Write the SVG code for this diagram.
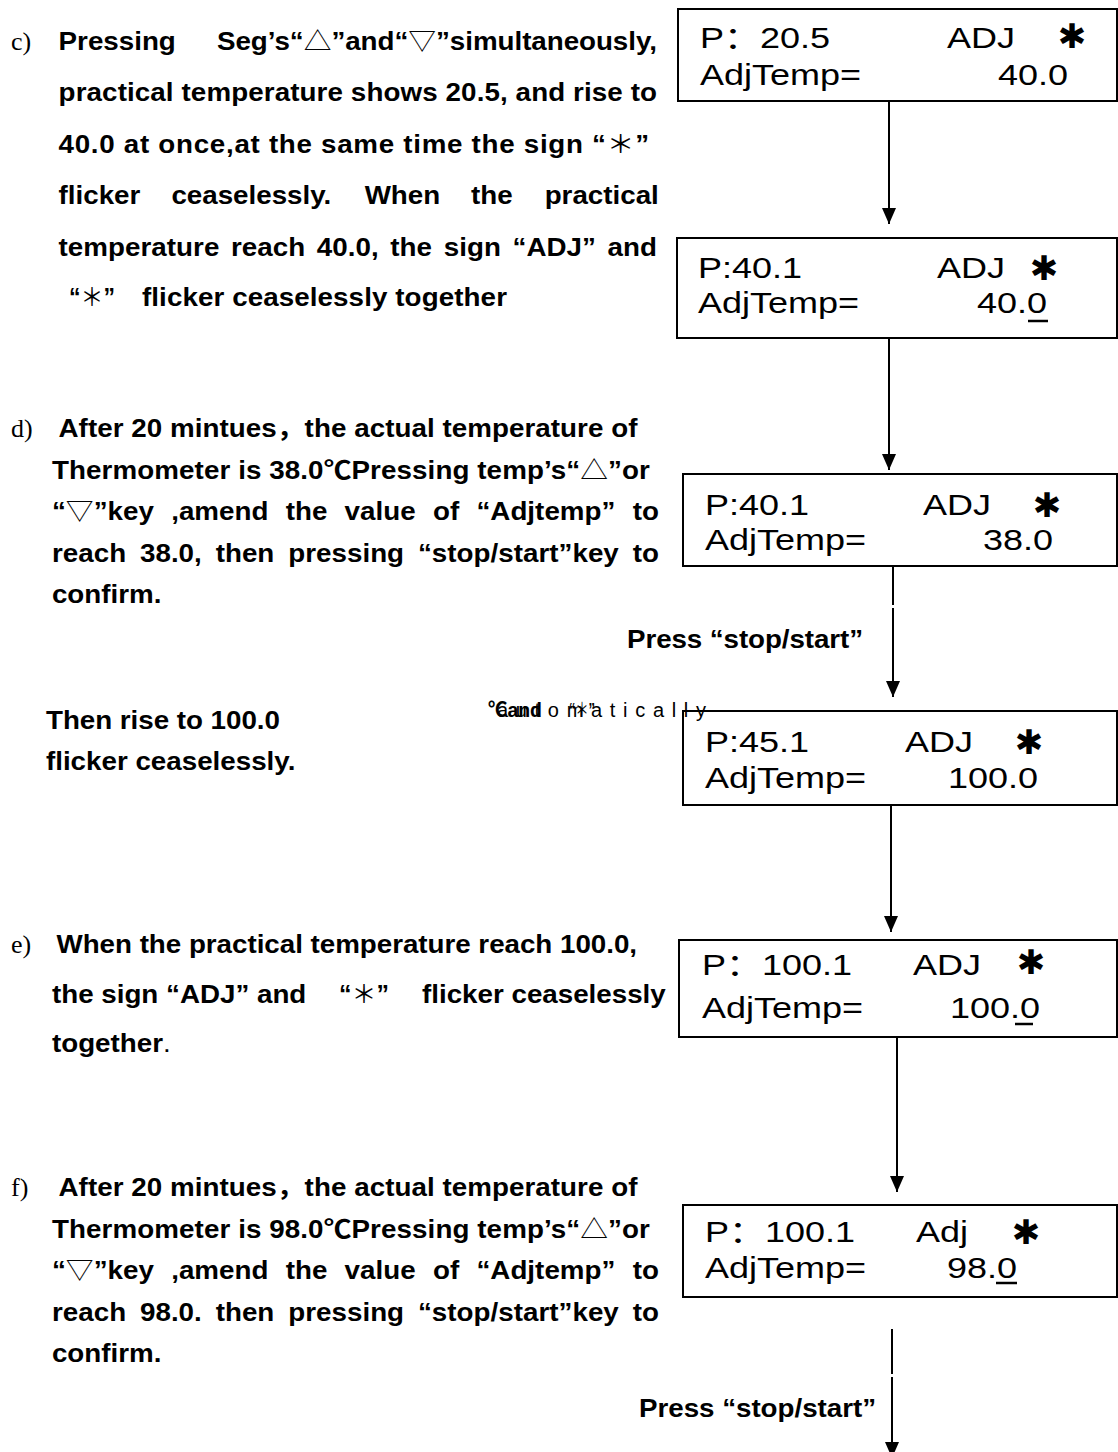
<svg xmlns="http://www.w3.org/2000/svg" width="1118" height="1452" viewBox="0 0 1118 1452">
<defs>
<style>
.t{font-family:"Liberation Sans","Noto Sans CJK SC",sans-serif;font-weight:bold;font-size:25px;fill:#000}
.n{font-weight:normal}
.cj{font-family:"Noto Sans CJK SC",sans-serif}
.lbl{font-family:"Liberation Serif","Noto Sans CJK SC",serif;font-size:26px;fill:#000}
.bx{font-family:"Liberation Sans","Noto Sans CJK SC",sans-serif;font-size:30px;fill:#000}
.star{font-family:"DejaVu Sans",sans-serif;font-size:34px;font-weight:bold;fill:#000;text-anchor:middle}
.box{fill:none;stroke:#000;stroke-width:2}
.ul{stroke:#000;stroke-width:2.5}
.conn{fill:none;stroke:#000;stroke-width:2;marker-end:url(#ah)}
.sm{font-family:"Liberation Sans","Noto Sans CJK SC",sans-serif;font-size:20px;fill:#000}
</style>
<marker id="ah" viewBox="0 0 16 14" refX="16" refY="7" markerWidth="16" markerHeight="14" markerUnits="userSpaceOnUse" orient="auto">
<path d="M0,0 L16,7 L0,14 z" fill="#000"/>
</marker>
</defs>
<rect width="1118" height="1452" fill="#fff"/>

<!-- step c text -->
<g id="step-c">
<text class="lbl" x="11" y="50">c)</text>
<g transform="scale(1.11 1)">
<text class="t" x="52.8" y="50">Pressing</text>
<text class="t" x="195.5" y="50" textLength="396.4" lengthAdjust="spacing">Seg’s“<tspan class="cj n">△</tspan>”and“<tspan class="cj n">▽</tspan>”simultaneously,</text>
<text class="t" x="52.8" y="101" textLength="539.1" lengthAdjust="spacing">practical temperature shows 20.5, and rise to</text>
<text class="t" x="52.8" y="153" textLength="531.9" lengthAdjust="spacing">40.0 at once,at the same time the sign “<tspan class="cj n">＊</tspan>”</text>
<text class="t" y="204"><tspan x="52.8">flicker</tspan><tspan x="154.4">ceaselessly.</tspan><tspan x="328.5">When</tspan><tspan x="424.3">the</tspan><tspan x="490.7">practical</tspan></text>
<text class="t" x="52.8" y="256" word-spacing="3.5" textLength="539.1" lengthAdjust="spacing">temperature reach 40.0, the sign “ADJ” and</text>
<text class="t" x="62.2" y="306" textLength="41.4" lengthAdjust="spacingAndGlyphs">“<tspan class="cj n">＊</tspan>”</text>
<text class="t" x="127.9" y="306" textLength="328.8" lengthAdjust="spacing">flicker ceaselessly together</text>
</g>
</g>

<!-- step d text -->
<g id="step-d">
<text class="lbl" x="11" y="437">d)</text>
<g transform="scale(1.11 1)">
<text class="t" x="52.7" y="437" textLength="521.6" lengthAdjust="spacing">After 20 mintues，the actual temperature of</text>
<text class="t" x="46.8" y="479" textLength="538.7" lengthAdjust="spacing">Thermometer is 38.0℃Pressing temp’s“<tspan class="cj n">△</tspan>”or</text>
<text class="t" x="46.8" y="520" word-spacing="8.5" textLength="546.8" lengthAdjust="spacing">“<tspan class="cj n">▽</tspan>”key ,amend the value of “Adjtemp” to</text>
<text class="t" x="46.8" y="562" word-spacing="5.5" textLength="546.8" lengthAdjust="spacing">reach 38.0, then pressing “stop/start”key to</text>
<text class="t" x="46.8" y="603">confirm.</text>
<text class="t" x="41.4" y="729" textLength="210.8" lengthAdjust="spacing">Then rise to 100.0</text>
<text class="t" x="41.4" y="770">flicker ceaselessly.</text>
</g>
<text class="sm" x="488" y="717" font-weight="bold" textLength="54" lengthAdjust="spacingAndGlyphs">℃and</text>
<text class="sm" x="569" y="717" font-weight="bold" textLength="26" lengthAdjust="spacingAndGlyphs">“<tspan class="cj n">＊</tspan>”</text>
<text class="sm" x="497" y="717" textLength="209" lengthAdjust="spacing">automatically</text>
</g>

<!-- step e text -->
<g id="step-e">
<text class="lbl" x="11" y="953">e)</text>
<g transform="scale(1.11 1)">
<text class="t" x="50.9" y="953" textLength="523" lengthAdjust="spacing">When the practical temperature reach 100.0,</text>
<text class="t" x="46.8" y="1003">the sign “ADJ” and</text>
<text class="t" x="305.4" y="1003" textLength="45" lengthAdjust="spacingAndGlyphs">“<tspan class="cj n">＊</tspan>”</text>
<text class="t" x="380.2" y="1003">flicker ceaselessly</text>
<text class="t" x="46.8" y="1052">together<tspan class="n">.</tspan></text>
</g>
</g>

<!-- step f text -->
<g id="step-f">
<text class="lbl" x="11" y="1196">f)</text>
<g transform="scale(1.11 1)">
<text class="t" x="52.7" y="1196" textLength="521.6" lengthAdjust="spacing">After 20 mintues，the actual temperature of</text>
<text class="t" x="46.8" y="1238" textLength="538.7" lengthAdjust="spacing">Thermometer is 98.0℃Pressing temp’s“<tspan class="cj n">△</tspan>”or</text>
<text class="t" x="46.8" y="1279" word-spacing="8.5" textLength="546.8" lengthAdjust="spacing">“<tspan class="cj n">▽</tspan>”key ,amend the value of “Adjtemp” to</text>
<text class="t" x="46.8" y="1321" word-spacing="5.5" textLength="546.8" lengthAdjust="spacing">reach 98.0. then pressing “stop/start”key to</text>
<text class="t" x="46.8" y="1362">confirm.</text>
</g>
</g>

<!-- connectors -->
<g id="connectors">
<path class="conn" d="M889,101 V224"/>
<path class="conn" d="M889,338 V470"/>
<path class="conn" d="M893,567 V605 M893,608 V697"/>
<path class="conn" d="M891,805 V932"/>
<path class="conn" d="M897,1038 V1192"/>
<path class="conn" d="M892,1329 V1374 M892,1377 V1458"/>
<g transform="scale(1.11 1)">
<text class="t" x="564.9" y="648" textLength="212.6" lengthAdjust="spacing">Press “stop/start”</text>
<text class="t" x="575.7" y="1417" textLength="213.5" lengthAdjust="spacing">Press “stop/start”</text>
</g>
</g>

<!-- boxes -->
<g id="box1">
<rect class="box" x="678" y="9" width="439" height="92"/>
<g transform="scale(1.2 1)">
<text class="bx" x="583.3" y="48">P：20.5</text>
<text class="bx" x="789.2" y="48">ADJ</text>
<text class="bx" x="583.3" y="85">AdjTemp=</text>
<text class="bx" x="831.7" y="85">40.0</text>
</g>
<text class="star" x="1072" y="48">✱</text>
</g>

<g id="box2">
<rect class="box" x="677" y="238" width="440" height="100"/>
<g transform="scale(1.2 1)">
<text class="bx" x="581.7" y="278">P:40.1</text>
<text class="bx" x="780.8" y="278">ADJ</text>
<text class="bx" x="581.7" y="313">AdjTemp=</text>
<text class="bx" x="814.2" y="313">40.0</text>
</g>
<text class="star" x="1044" y="280">✱</text>
<line class="ul" x1="1028" y1="321" x2="1048" y2="321"/>
</g>

<g id="box3">
<rect class="box" x="683" y="474" width="434" height="92"/>
<g transform="scale(1.2 1)">
<text class="bx" x="587.5" y="515">P:40.1</text>
<text class="bx" x="769.2" y="515">ADJ</text>
<text class="bx" x="587.5" y="550">AdjTemp=</text>
<text class="bx" x="819.2" y="550">38.0</text>
</g>
<text class="star" x="1047" y="517">✱</text>
</g>

<g id="box4">
<rect class="box" x="683" y="711" width="434" height="94"/>
<g transform="scale(1.2 1)">
<text class="bx" x="587.5" y="752">P:45.1</text>
<text class="bx" x="754.2" y="752">ADJ</text>
<text class="bx" x="587.5" y="788">AdjTemp=</text>
<text class="bx" x="790" y="788">100.0</text>
</g>
<text class="star" x="1029" y="754">✱</text>
</g>

<g id="box5">
<rect class="box" x="679" y="940" width="438" height="97"/>
<g transform="scale(1.2 1)">
<text class="bx" x="585" y="975">P：100.1</text>
<text class="bx" x="760.8" y="975">ADJ</text>
<text class="bx" x="585" y="1018">AdjTemp=</text>
<text class="bx" x="791.7" y="1018">100.0</text>
</g>
<text class="star" x="1031" y="974">✱</text>
<line class="ul" x1="1015" y1="1024" x2="1033" y2="1024"/>
</g>

<g id="box6">
<rect class="box" x="683" y="1205" width="434" height="92"/>
<g transform="scale(1.2 1)">
<text class="bx" x="587.5" y="1242">P：100.1</text>
<text class="bx" x="763.3" y="1242">Adj</text>
<text class="bx" x="587.5" y="1278">AdjTemp=</text>
<text class="bx" x="789.2" y="1278">98.0</text>
</g>
<text class="star" x="1026" y="1244">✱</text>
<line class="ul" x1="996" y1="1283" x2="1017" y2="1283"/>
</g>
</svg>
